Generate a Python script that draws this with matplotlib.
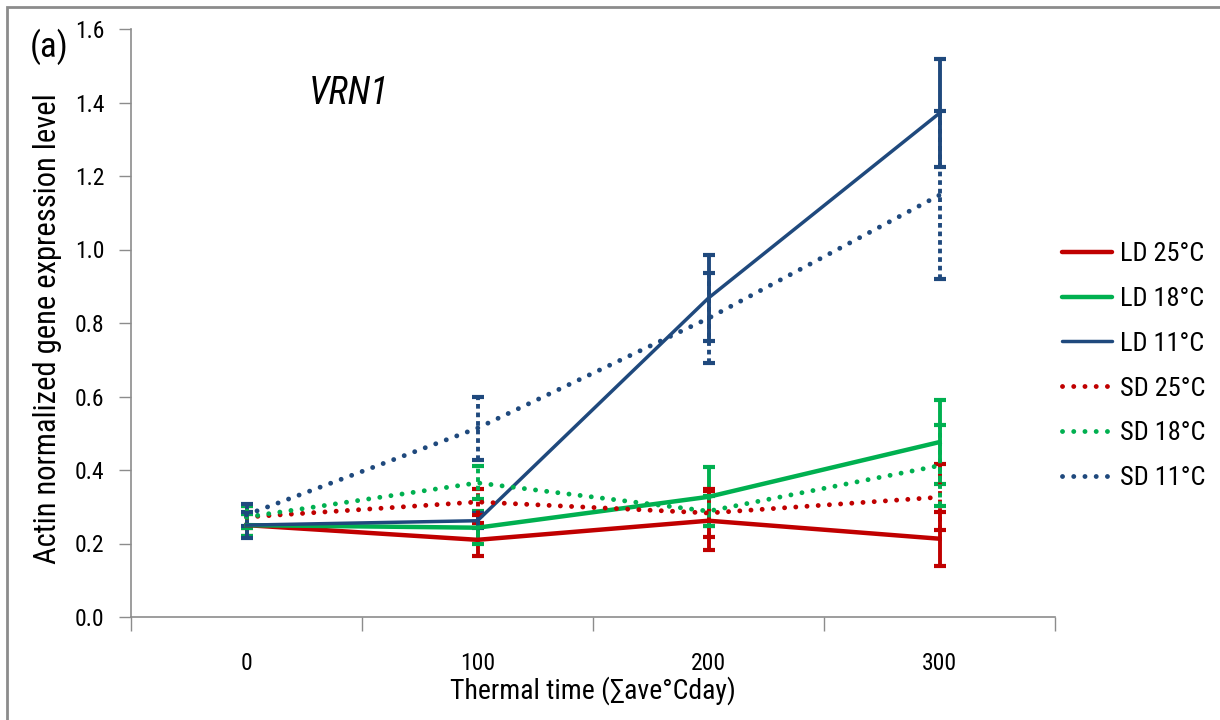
import matplotlib
matplotlib.use("Agg")
import matplotlib.pyplot as plt
from matplotlib.patches import Rectangle
from matplotlib.lines import Line2D
from matplotlib import font_manager

names = {f.name for f in font_manager.fontManager.ttflist}
main_font = 'Liberation Sans'
for cand in ['Roboto Condensed', 'Liberation Sans Narrow', 'Open Sans Condensed', 'Noto Sans Condensed']:
    if cand in names:
        main_font = cand
        break
plt.rcParams['font.family'] = [main_font, 'DejaVu Sans']

categories = ['0', '100', '200', '300']
series_names = ['LD 25°C', 'LD 18°C', 'LD 11°C', 'SD 25°C', 'SD 18°C', 'SD 11°C']
ld25 = [0.25, 0.21, 0.262, 0.213]
ld25_err = [0.03, 0.045, 0.08, 0.073]
ld18 = [0.25, 0.243, 0.327, 0.476]
ld18_err = [0.03, 0.045, 0.08, 0.114]
ld11 = [0.25, 0.262, 0.868, 1.371]
ld11_err = [0.035, 0.02, 0.118, 0.147]
sd25 = [0.272, 0.313, 0.283, 0.326]
sd25_err = [0.03, 0.035, 0.065, 0.09]
sd18 = [0.272, 0.365, 0.288, 0.412]
sd18_err = [0.03, 0.045, 0.04, 0.11]
sd11 = [0.278, 0.514, 0.813, 1.148]
sd11_err = [0.03, 0.086, 0.122, 0.228]

red = '#C00000'
green = '#00B050'
blue = '#1F497D'

fig = plt.figure(figsize=(12.2, 7.2), dpi=100)
fig.patches.append(Rectangle((7/1220, -0.01), 1.1, 1 - 7/720 + 0.01, transform=fig.transFigure,
                             fill=False, edgecolor='#8c8c8c', linewidth=2))
ax = fig.add_axes([131/1220, 1 - 617/720, (1055 - 131)/1220, (617 - 29)/720])

x = list(range(len(categories)))
specs = [
    (ld25, ld25_err, red, 'solid', 3.2),
    (ld18, ld18_err, green, 'solid', 3.2),
    (ld11, ld11_err, blue, 'solid', 2.5),
    (sd25, sd25_err, red, 'dotted', 3.5),
    (sd18, sd18_err, green, 'dotted', 3.5),
    (sd11, sd11_err, blue, 'dotted', 3.5),
]
for (vals, err, col, style, lw), name in zip(specs, series_names):
    if style == 'solid':
        ls = '-'
        cap = 'projecting'
        els = '-'
    else:
        ls = (0, (0.01, 2.3))
        cap = 'round'
        els = (0, (1.2, 1.0))
    eb = ax.errorbar(x, vals, yerr=err, color=col, lw=lw, ls=ls, capsize=4, capthick=3,
                     elinewidth=2.8, label=name, zorder=3)
    eb[0].set_dash_capstyle(cap)
    for lc in eb[2]:
        lc.set_linestyle(els)

ax.set_xlim(-0.5, 3.5)
ax.set_ylim(0, 1.6)
ax.set_yticks([0, 0.2, 0.4, 0.6, 0.8, 1.0, 1.2, 1.4, 1.6])
ax.set_yticklabels(['0.0', '0.2', '0.4', '0.6', '0.8', '1.0', '1.2', '1.4', '1.6'])
ax.set_xticks(x)
ax.set_xticklabels(categories)
ax.set_xticks([-0.5, 0.5, 1.5, 2.5, 3.5], minor=True)
ax.tick_params(axis='x', which='major', length=0, pad=25, labelsize=17)
ax.tick_params(axis='x', which='minor', length=10, color='#8c8c8c', width=1)
ax.tick_params(axis='y', length=9, color='#8c8c8c', width=1, labelsize=17, pad=10)
for s in ['top', 'right']:
    ax.spines[s].set_visible(False)
for s in ['left', 'bottom']:
    ax.spines[s].set_color('#8c8c8c')
    ax.spines[s].set_linewidth(1.2)

ax.set_xlabel('Thermal time (∑ave°Cday)', fontsize=20, labelpad=1)
ax.set_ylabel('Actin normalized gene expression level', fontsize=22, labelpad=9)
ax.yaxis.label.set_y(0.49)
ax.text(0.192, 0.873, 'VRN1', transform=ax.transAxes, fontsize=27, style='italic')
fig.text(30/1220, 1 - 47/720, '(a)', fontsize=25, va='center')

hl = []
for (vals, err, col, style, lw) in specs:
    if style == 'solid':
        hl.append(Line2D([], [], color=col, lw=lw, solid_capstyle='round'))
    else:
        h = Line2D([], [], color=col, lw=3.5, ls=(0, (0.01, 2.3)))
        h.set_dash_capstyle('round')
        hl.append(h)
leg = fig.legend(hl, series_names, loc='upper left', bbox_to_anchor=(1062/1220, 1 - 242/720),
                 frameon=False, fontsize=19, handlelength=1.9, labelspacing=0.79, handletextpad=0.3,
                 borderpad=0, borderaxespad=0)

fig.savefig('out.png', dpi=100)
